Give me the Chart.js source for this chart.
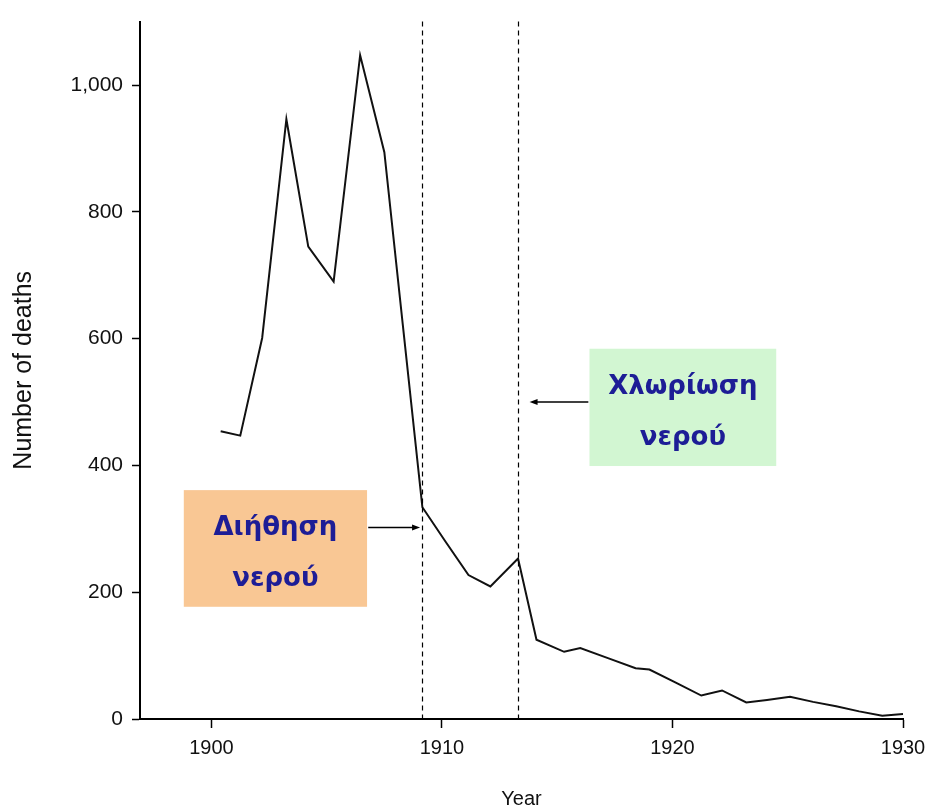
<!DOCTYPE html>
<html>
<head>
<meta charset="utf-8">
<script src="https://cdn.jsdelivr.net/npm/chart.js@4"></script>
<style>
  html, body { margin: 0; padding: 0; background: #fff; }
  #wrap { width: 937px; height: 812px; position: relative; }
</style>
</head>
<body>
<div id="wrap"><canvas id="chart"></canvas></div>
<script>
// values (x = where each vertex sits on the year axis)
const years  = [1900.4, 1901.25, 1902.2, 1903.25, 1904.2, 1905.3, 1906.45, 1907.5, 1908.3, 1909.15,
                1910.15, 1911.15, 1912.1, 1913.3, 1914.1, 1915.3, 1916.0, 1917.2, 1918.4, 1919.0,
                1920.1, 1921.25, 1922.15, 1923.2, 1924.1, 1925.1, 1926.1, 1927.1, 1928.1, 1929.1, 1930.0]
const deaths = [454, 447, 601, 946, 745, 690, 1047, 894, 622, 334,
                280, 227, 209, 253, 125, 106, 112, 96, 80, 78,
                58, 37, 45, 26, 30, 35, 27, 20, 12, 5, 8]

const xTicks = [1900, 1910, 1920, 1930]
const yTicks = [0, 200, 400, 600, 800, 1000]
const yTickLabels = ['0', '200', '400', '600', '800', '1,000']

const eventYears = [1909.15, 1913.3]           // filtration, chlorination
const filtrationText = ['Διήθηση', 'νερού']
const chlorinationText = ['Χλωρίωση', 'νερού']

// annotation placement, in data units
const notes = [
  { lines: filtrationText, x0: 1898.8, x1: 1906.75, y0: 177, y1: 361, fill: '#f9c794',
    arrow: { from: 1906.8, to: 1909.05, y: 302 } },
  { lines: chlorinationText, x0: 1916.4, x1: 1924.5, y0: 399, y1: 584, fill: '#d2f6d2',
    arrow: { from: 1916.35, to: 1913.8, y: 500 } },
]

const annotate = {
  id: 'annotate',
  afterDraw(chart) {
    const { ctx, chartArea, scales: { x, y } } = chart
    ctx.save()

    // dashed event lines
    ctx.strokeStyle = '#000'
    ctx.lineWidth = 1.2
    ctx.setLineDash([5, 4])
    for (const yr of eventYears) {
      const px = Math.round(x.getPixelForValue(yr)) + 0.5
      ctx.beginPath()
      ctx.moveTo(px, chartArea.top)
      ctx.lineTo(px, y.getPixelForValue(0))
      ctx.stroke()
    }
    ctx.setLineDash([])

    for (const n of notes) {
      const l = x.getPixelForValue(n.x0), r = x.getPixelForValue(n.x1)
      const t = y.getPixelForValue(n.y1), b = y.getPixelForValue(n.y0)
      ctx.fillStyle = n.fill
      ctx.fillRect(l, t, r - l, b - t)

      ctx.fillStyle = '#1d1d96'
      ctx.font = 'bold 26px "DejaVu Sans", sans-serif'
      ctx.textAlign = 'center'
      ctx.textBaseline = 'middle'
      const cx = (l + r) / 2, cy = (t + b) / 2 + 5
      ctx.fillText(n.lines[0], cx, cy - 25)
      ctx.fillText(n.lines[1], cx, cy + 26)

      // arrow
      const a = n.arrow
      const ax0 = x.getPixelForValue(a.from), ax1 = x.getPixelForValue(a.to)
      const ay = y.getPixelForValue(a.y)
      const dir = Math.sign(ax1 - ax0)
      ctx.strokeStyle = '#000'
      ctx.lineWidth = 1.6
      ctx.beginPath()
      ctx.moveTo(ax0, ay)
      ctx.lineTo(ax1 - dir * 5, ay)
      ctx.stroke()
      ctx.fillStyle = '#000'
      ctx.beginPath()
      ctx.moveTo(ax1, ay)
      ctx.lineTo(ax1 - dir * 8, ay - 3)
      ctx.lineTo(ax1 - dir * 8, ay + 3)
      ctx.closePath()
      ctx.fill()
    }
    ctx.restore()
  },
}

new Chart(document.getElementById('chart'), {
  type: 'line',
  data: {
    datasets: [{
      data: years.map((yr, i) => ({ x: yr, y: deaths[i] })),
      borderColor: '#111',
      borderWidth: 2,
      pointRadius: 0,
      tension: 0,
      fill: false,
    }],
  },
  options: {
    responsive: true,
    maintainAspectRatio: false,
    animation: false,
    events: [],
    layout: { padding: { top: 17, right: 34, left: 0, bottom: 0 } },
    plugins: { legend: { display: false }, tooltip: { enabled: false } },
    scales: {
      x: {
        type: 'linear',
        min: 1896.9,
        max: 1930,
        afterBuildTicks: axis => { axis.ticks = xTicks.map(v => ({ value: v })) },
        afterFit: axis => { axis.height = 93 },
        border: { color: '#000', width: 2 },
        grid: { drawOnChartArea: false, tickLength: 9, tickColor: '#000', tickWidth: 1.5 },
        ticks: { color: '#111', padding: 8, maxRotation: 0, font: { family: '"Liberation Sans", Arial, sans-serif', size: 20 },
                 callback: v => String(v) },
        title: { display: true, text: 'Year', color: '#111', padding: { top: 0, bottom: 1 },
                 font: { family: '"Liberation Sans", Arial, sans-serif', size: 20 } },
      },
      y: {
        min: 0,
        max: 1100,
        afterBuildTicks: axis => { axis.ticks = yTicks.map(v => ({ value: v })) },
        afterFit: axis => { axis.width = 140 },
        border: { color: '#000', width: 2 },
        grid: { drawOnChartArea: false, tickLength: 8, tickColor: '#000', tickWidth: 1.5 },
        ticks: { color: '#111', padding: 9, font: { family: '"Liberation Sans", Arial, sans-serif', size: 21 },
                 callback: v => yTickLabels[yTicks.indexOf(v)] },
        title: { display: true, text: 'Number of deaths', color: '#111', padding: { top: 9, bottom: 0 },
                 font: { family: '"Liberation Sans", Arial, sans-serif', size: 25 } },
      },
    },
  },
  plugins: [annotate],
})
</script>
</body>
</html>
